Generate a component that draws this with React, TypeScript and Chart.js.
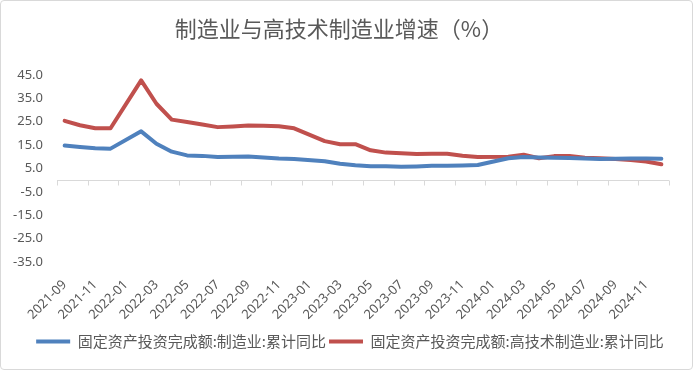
import React, { useEffect, useRef } from 'react';
import { Chart, registerables } from 'chart.js';

Chart.register(...registerables);

const chartTitle = '制造业与高技术制造业增速（%）';

const categories = [
  '2021-09', '2021-10', '2021-11', '2021-12',
  '2022-01', '2022-02', '2022-03', '2022-04', '2022-05', '2022-06',
  '2022-07', '2022-08', '2022-09', '2022-10', '2022-11', '2022-12',
  '2023-01', '2023-02', '2023-03', '2023-04', '2023-05', '2023-06',
  '2023-07', '2023-08', '2023-09', '2023-10', '2023-11', '2023-12',
  '2024-01', '2024-02', '2024-03', '2024-04', '2024-05', '2024-06',
  '2024-07', '2024-08', '2024-09', '2024-10', '2024-11', '2024-12',
];

const seriesNames = [
  '固定资产投资完成额:制造业:累计同比',
  '固定资产投资完成额:高技术制造业:累计同比',
];

const manufacturing: (number | null)[] = [
  14.8, 14.2, 13.7, 13.5,
  null, 20.9, 15.6, 12.2, 10.6, 10.4,
  9.9, 10.0, 10.1, 9.7, 9.3, 9.1,
  null, 8.1, 7.0, 6.4, 6.0, 6.0,
  5.7, 5.9, 6.2, 6.2, 6.3, 6.5,
  null, 9.4, 9.9, 9.7, 9.6, 9.5,
  9.3, 9.1, 9.2, 9.3, 9.3, 9.2,
];

const highTech: (number | null)[] = [
  25.4, 23.5, 22.2, 22.2,
  null, 42.7, 32.7, 25.9, 24.9, 23.8,
  22.7, 23.0, 23.4, 23.3, 23.1, 22.2,
  null, 16.7, 15.4, 15.4, 12.8, 11.8,
  11.5, 11.2, 11.3, 11.3, 10.5, 9.9,
  null, 10.0, 10.9, 9.4, 10.3, 10.3,
  9.6, 9.4, 9.1, 8.6, 8.0, 6.8,
];

const yMin = -35;
const yMax = 45;
const yStep = 10;

const seriesColors = ['#4F81BD', '#C0504D'];
const textColor = '#595959';
const axisColor = '#D9D9D9';

export default function App() {
  const canvasRef = useRef<HTMLCanvasElement>(null);

  useEffect(() => {
    document.body.style.margin = '0';
    const canvas = canvasRef.current;
    if (!canvas) return;

    const zeroAxisPlugin = {
      id: 'zeroAxis',
      beforeDatasetsDraw(chart: any) {
        const { ctx, chartArea, scales } = chart;
        const y0 = Math.round(scales.y.getPixelForValue(0)) + 0.5;
        const n = categories.length;
        const catW = (chartArea.right - chartArea.left) / n;
        ctx.save();
        ctx.strokeStyle = axisColor;
        ctx.lineWidth = 1;
        ctx.beginPath();
        ctx.moveTo(chartArea.left, y0);
        ctx.lineTo(chartArea.right, y0);
        for (let i = 0; i <= n; i += 2) {
          const x = Math.round(chartArea.left + i * catW) + 0.5;
          ctx.moveTo(x, y0);
          ctx.lineTo(x, y0 + 5);
        }
        ctx.stroke();
        ctx.restore();
      },
    };

    const legendShiftPlugin = {
      id: 'legendShift',
      afterLayout(chart: any) {
        if (chart.legend) {
          chart.legend.left += 15;
          chart.legend.right += 15;
        }
      },
    };

    const titlePlugin = {
      id: 'customTitle',
      afterDraw(chart: any) {
        const { ctx } = chart;
        ctx.save();
        ctx.font = '22px "Noto Sans CJK SC", "Noto Sans", sans-serif';
        ctx.fillStyle = textColor;
        ctx.textAlign = 'center';
        ctx.textBaseline = 'middle';
        ctx.fillText(chartTitle, 338, 28);
        ctx.restore();
      },
    };

    const chart = new Chart(canvas, {
      type: 'line',
      data: {
        labels: categories,
        datasets: [
          {
            label: seriesNames[0],
            data: manufacturing,
            borderColor: seriesColors[0],
            backgroundColor: seriesColors[0],
            borderWidth: 4,
            pointRadius: 0,
            pointHoverRadius: 0,
            tension: 0,
            spanGaps: true,
            borderJoinStyle: 'round',
            borderCapStyle: 'round',
          },
          {
            label: seriesNames[1],
            data: highTech,
            borderColor: seriesColors[1],
            backgroundColor: seriesColors[1],
            borderWidth: 4,
            pointRadius: 0,
            pointHoverRadius: 0,
            tension: 0,
            spanGaps: true,
            borderJoinStyle: 'round',
            borderCapStyle: 'round',
          },
        ],
      },
      options: {
        responsive: false,
        animation: false,
        devicePixelRatio: 1,
        layout: { padding: { top: 74, right: 23, bottom: 10, left: 0 } },
        plugins: {
          title: { display: false },
          tooltip: { enabled: false },
          legend: {
            display: true,
            position: 'bottom',
            labels: {
              boxWidth: 34,
              boxHeight: 4,
              padding: 3,
              color: textColor,
              font: { size: 15, family: '"Noto Sans CJK SC", "Noto Sans", sans-serif' },
              generateLabels: (c: any) =>
                (Chart.defaults.plugins.legend.labels as any).generateLabels(c).map((l: any, i: number) => ({
                  ...l,
                  fillStyle: seriesColors[i],
                  strokeStyle: seriesColors[i],
                  lineWidth: 0,
                })),
            },
          },
        },
        scales: {
          x: {
            type: 'category',
            offset: true,
            grid: { display: false, drawTicks: false },
            border: { display: false },
            afterFit: (s: any) => {
              s.height = 69;
            },
            ticks: {
              autoSkip: false,
              minRotation: 45,
              maxRotation: 45,
              padding: 15,
              color: textColor,
              font: { size: 13, family: '"Noto Sans", sans-serif' },
              callback: (_v: any, i: number) => (i % 2 === 0 ? categories[i] : ''),
            },
          },
          y: {
            type: 'linear',
            min: yMin,
            max: yMax,
            grid: { display: false, drawTicks: false },
            border: { display: false },
            afterFit: (s: any) => {
              s.width = 56;
            },
            ticks: {
              stepSize: yStep,
              padding: 14,
              color: textColor,
              font: { size: 13, family: '"Noto Sans", sans-serif' },
              callback: (v: any) => Number(v).toFixed(1),
            },
          },
        },
      },
      plugins: [zeroAxisPlugin, legendShiftPlugin, titlePlugin],
    } as any);

    return () => chart.destroy();
  }, []);

  return (
    <div
      style={{
        position: 'fixed',
        left: 0,
        top: 0,
        width: 693,
        height: 370,
        boxSizing: 'border-box',
        border: '1px solid #D9D9D9',
        borderRadius: 4,
        background: '#fff',
        overflow: 'hidden',
      }}
    >
      <canvas ref={canvasRef} width={691} height={368} style={{ display: 'block' }} />
    </div>
  );
}
